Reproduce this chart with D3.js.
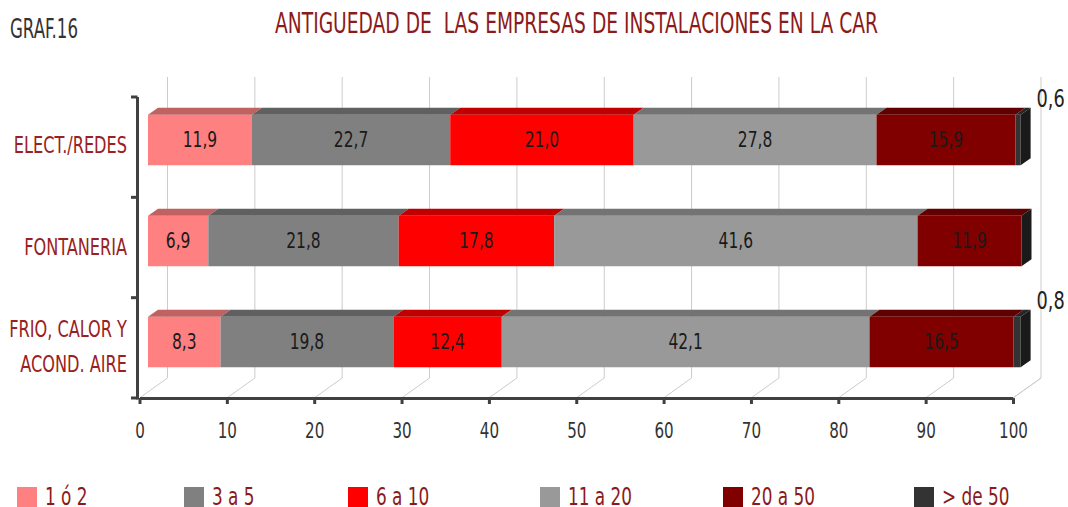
<!DOCTYPE html>
<html>
<head>
<meta charset="utf-8">
<script src="https://cdn.jsdelivr.net/npm/d3@7"></script>
<style>
  body { margin: 0; background: #fff; }
  svg text { font-family: "Liberation Sans Narrow", "DejaVu Sans Condensed", sans-serif; }
</style>
</head>
<body>
<div id="chartContent"></div>
<script>
//Data
var categories = ["ELECT./REDES", "FONTANERIA", "FRIO, CALOR Y|ACOND. AIRE"];
var seriesNames = ["1 ó 2", "3 a 5", "6 a 10", "11 a 20", "20 a 50", "> de 50"];
var s1a2 = [11.9, 6.9, 8.3];
var s3a5 = [22.7, 21.8, 19.8];
var s6a10 = [21.0, 17.8, 12.4];
var s11a20 = [27.8, 41.6, 42.1];
var s20a50 = [15.9, 11.9, 16.5];
var sMas50 = [0.6, 0, 0.8];
var xTicks = [0, 10, 20, 30, 40, 50, 60, 70, 80, 90, 100];

var seriesValues = [s1a2, s3a5, s6a10, s11a20, s20a50, sMas50];
var frontColors = ["#ff8080", "#808080", "#ff0000", "#999999", "#800000", "#333333"];
var topColors = ["#c06262", "#606060", "#c00000", "#737373", "#600000", "#262626"];
var sideColor = "#1a1a1a";

var width = 1068, height = 507;

var svg = d3.select("#chartContent")
    .append("svg")
    .attr("width", width)
    .attr("height", height)

//make the text narrow like the original font
function squeeze(sel, f) {
    sel.each(function() {
        var w = this.getComputedTextLength()
        d3.select(this)
            .attr("textLength", w * f)
            .attr("lengthAdjust", "spacingAndGlyphs")
    })
}

//Table for the stack
var table = categories.map((c, i) => {
    var row = {cat: c}
    seriesNames.forEach((s, j) => row[s] = seriesValues[j][i])
    return row
})
var stacked = d3.stack().keys(seriesNames)(table)

var x = d3.scaleLinear().domain([0, 100]).range([139.5, 1013]);
var y = d3.scaleBand()
    .domain(categories)
    .range([97, 398])
    .paddingInner(0.5)
    .paddingOuter(0.24);

//depth of the 3D box and of the bars
var depthX = 28, depthY = -20;
var barX1 = 8.5, barY1 = -6.5, barX2 = 18.5, barY2 = -13.5;

var fmt = v => d3.format(".1f")(v).replace(".", ",")

//Back wall grid and floor lines
var grid = svg.append("g")
grid.selectAll(".vgrid")
    .data(xTicks)
    .enter()
    .append("line")
    .attr("x1", d => x(d) + depthX)
    .attr("x2", d => x(d) + depthX)
    .attr("y1", 398 + depthY)
    .attr("y2", 97 + depthY)
    .attr("stroke", "#cccccc")
    .attr("stroke-width", 1)
grid.selectAll(".floor")
    .data(xTicks)
    .enter()
    .append("line")
    .attr("x1", d => x(d))
    .attr("x2", d => x(d) + depthX)
    .attr("y1", 398)
    .attr("y2", 398 + depthY)
    .attr("stroke", "#cccccc")
    .attr("stroke-width", 1)

//Bars
var bars = svg.append("g")
stacked.forEach((layer, j) => {
    layer.forEach((d, i) => {
        var cat = categories[i]
        var yt = y(cat), yb = y(cat) + y.bandwidth()
        var xs = x(d[0]), xe = x(d[1])
        if (d[1] - d[0] > 0) {
            bars.append("rect")
                .attr("x", xs + barX1)
                .attr("y", yt + barY1)
                .attr("width", xe - xs)
                .attr("height", yb - yt)
                .attr("fill", frontColors[j])
            bars.append("polygon")
                .attr("points", [
                    [xs + barX1, yt + barY1], [xe + barX1, yt + barY1],
                    [xe + barX2, yt + barY2], [xs + barX2, yt + barY2]
                ].join(" "))
                .attr("fill", topColors[j])
        }
        if (j === stacked.length - 1) {
            bars.append("polygon")
                .attr("points", [
                    [xe + barX1, yt + barY1], [xe + barX2, yt + barY2],
                    [xe + barX2, yb + barY2], [xe + barX1, yb + barY1]
                ].join(" "))
                .attr("fill", sideColor)
        }
    })
})

//Value labels
stacked.forEach((layer, j) => {
    layer.forEach((d, i) => {
        var v = d[1] - d[0]
        if (v <= 0) return
        var cat = categories[i]
        var t
        if (j === stacked.length - 1) {
            t = svg.append("text")
                .attr("x", x(100) + barX2 + 5)
                .attr("y", y(cat) + barY1 - 8)
                .attr("font-size", 24)
                .attr("fill", "#222")
                .text(fmt(v))
        } else {
            t = svg.append("text")
                .attr("x", (x(d[0]) + x(d[1])) / 2 + barX1)
                .attr("y", y(cat) + barY1 + y.bandwidth() / 2 + 7)
                .attr("text-anchor", "middle")
                .attr("font-size", 21)
                .attr("fill", "#1a1a1a")
                .text(fmt(v))
        }
        squeeze(t, 0.82)
    })
})

//X axis
var xAxis = svg.append("g")
    .attr("transform", "translate(0,398)")
    .call(d3.axisBottom(x).tickValues(xTicks).tickSize(6).tickSizeOuter(0).tickFormat(d3.format("d")))
xAxis.select(".domain").attr("stroke", "#404040").attr("stroke-width", 3)
xAxis.selectAll(".tick line").attr("stroke", "#404040").attr("stroke-width", 3)
xAxis.selectAll(".tick text")
    .attr("y", 40)
    .attr("dy", 0)
    .attr("font-size", 21)
    .attr("fill", "#333")
    .attr("font-family", null)
squeeze(xAxis.selectAll(".tick text"), 0.8)

//right wall edge
svg.append("line")
    .attr("x1", x(100)).attr("y1", 398)
    .attr("x2", x(100) + depthX).attr("y2", 398 + depthY)
    .attr("stroke", "#cccccc")

//Y axis with ticks on the band edges
var y0 = y.range()[0], y1 = y.range()[1]
var edges = d3.range(categories.length + 1).map(i => y0 + i * (y1 - y0) / categories.length)
svg.append("line")
    .attr("x1", 137.5).attr("x2", 137.5)
    .attr("y1", y0).attr("y2", y1 + 1.5)
    .attr("stroke", "#404040")
    .attr("stroke-width", 3)
svg.selectAll(".ytick")
    .data(edges)
    .enter()
    .append("line")
    .attr("x1", 131).attr("x2", 137.5)
    .attr("y1", d => d).attr("y2", d => d)
    .attr("stroke", "#404040")
    .attr("stroke-width", 3)

//Category labels
categories.forEach(c => {
    var lines = c.split("|")
    var mid = y(c) + y.bandwidth() / 2
    lines.forEach((l, k) => {
        var off = lines.length === 1 ? 7 : (k === 0 ? -12 : 23)
        var t = svg.append("text")
            .attr("x", 127)
            .attr("y", mid + off)
            .attr("text-anchor", "end")
            .attr("font-size", 23)
            .attr("fill", "#9a2121")
            .style("white-space", "pre")
            .text(l)
        squeeze(t, 0.78)
    })
})

//Titles
svg.append("text")
    .attr("x", 275)
    .attr("y", 33)
    .attr("font-size", 29)
    .attr("fill", "#8b1a1a")
    .attr("textLength", 603)
    .attr("lengthAdjust", "spacingAndGlyphs")
    .style("white-space", "pre")
    .text("ANTIGUEDAD DE  LAS EMPRESAS DE INSTALACIONES EN LA CAR")

svg.append("text")
    .attr("x", 10)
    .attr("y", 38)
    .attr("font-size", 27)
    .attr("fill", "#333")
    .attr("textLength", 68)
    .attr("lengthAdjust", "spacingAndGlyphs")
    .text("GRAF.16")

//Legend
var legendX = [17, 184, 348, 540, 723, 914]
var legend = svg.selectAll(".legend")
    .data(seriesNames)
    .enter()
    .append("g")
    .attr("transform", (d, i) => `translate(${legendX[i]},487)`)
legend.append("rect")
    .attr("width", 20)
    .attr("height", 20)
    .attr("fill", (d, i) => frontColors[i])
legend.append("text")
    .attr("x", 28)
    .attr("y", 18)
    .attr("font-size", 25)
    .attr("fill", "#8b1a1a")
    .style("white-space", "pre")
    .text(d => d)
squeeze(legend.selectAll("text"), 0.75)
</script>
</body>
</html>
